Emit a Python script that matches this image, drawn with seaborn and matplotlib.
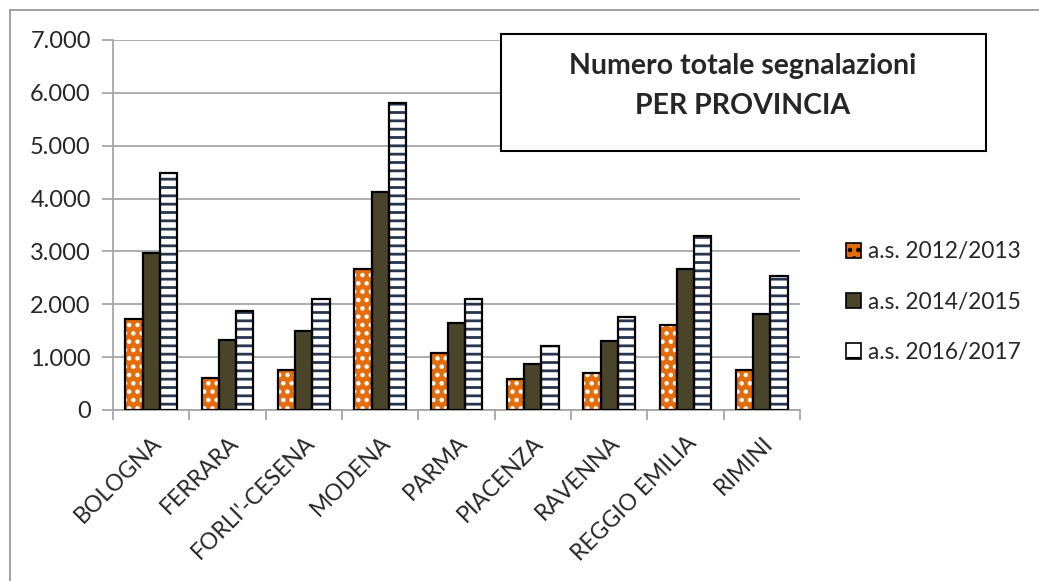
import numpy as np
import pandas as pd
import matplotlib
matplotlib.use("Agg")
import matplotlib.pyplot as plt
import seaborn as sns
from matplotlib.patches import Rectangle, Patch
from matplotlib.lines import Line2D
from matplotlib.ticker import FuncFormatter, FixedLocator

# data
province = ["BOLOGNA", "FERRARA", "FORLI'-CESENA", "MODENA", "PARMA",
            "PIACENZA", "RAVENNA", "REGGIO EMILIA", "RIMINI"]
anni = ["a.s. 2012/2013", "a.s. 2014/2015", "a.s. 2016/2017"]
as_2012_2013 = [1716, 612, 757, 2662, 1072, 593, 706, 1602, 757]
as_2014_2015 = [2964, 1324, 1494, 4118, 1652, 877, 1311, 2674, 1816]
as_2016_2017 = [4478, 1873, 2094, 5802, 2094, 1204, 1759, 3298, 2535]

df = pd.DataFrame({
    "provincia": province * 3,
    "anno": [anni[0]] * 9 + [anni[1]] * 9 + [anni[2]] * 9,
    "valore": as_2012_2013 + as_2014_2015 + as_2016_2017,
})

sns.set_style("white")
plt.rcParams['font.family'] = ['Lato', 'DejaVu Sans']
plt.rcParams['hatch.linewidth'] = 2.0

ORANGE = "#E46C0A"
OLIVE = "#4A452A"
NAVY = "#243650"
GRID = "#A6A6A6"

fig = plt.figure(figsize=(10.39, 5.81), dpi=100)
ax = fig.add_axes([113 / 1039, 1 - 410 / 581, 687 / 1039, 370 / 581])

sns.barplot(data=df, x="provincia", y="valore", hue="anno",
            palette=[ORANGE, OLIVE, "white"], width=0.68, gap=0,
            saturation=1, linewidth=0, legend=False, ax=ax, zorder=3)

# hatches: white dots on orange, dark horizontal stripes on white
styles = [("..", "white"), ("", OLIVE), ("--", NAVY)]
n = len(province)
for i, bar in enumerate(ax.patches[:3 * n]):
    hatch, hcol = styles[i // n]
    bar.set_hatch(hatch)
    bar.set_edgecolor(hcol)
    bar.set_linewidth(0)
    ax.add_patch(Rectangle(bar.get_xy(), bar.get_width(), bar.get_height(),
                           fill=False, edgecolor="black", linewidth=1.6,
                           zorder=4))

ax.set_ylim(0, 7000)
ax.set_xlim(-0.5, n - 0.5)
ax.yaxis.set_major_locator(FixedLocator(np.arange(0, 7001, 1000)))
ax.yaxis.set_major_formatter(FuncFormatter(lambda v, p: f"{int(v):,}".replace(",", ".")))
ax.grid(axis="y", color=GRID, linewidth=1.3, zorder=0)
ax.set_axisbelow(True)

for s in ["top", "right"]:
    ax.spines[s].set_visible(False)
for s in ["left", "bottom"]:
    ax.spines[s].set_color(GRID)
    ax.spines[s].set_linewidth(1.3)

ax.tick_params(axis="y", length=8, width=1.3, color=GRID, labelsize=17, pad=8,
               left=True)
ax.xaxis.set_minor_locator(FixedLocator(np.arange(-0.5, n, 1)))
ax.tick_params(axis="x", which="minor", length=7, width=1.3, color=GRID,
               bottom=True)
ax.tick_params(axis="x", which="major", length=0, pad=16, labelsize=16.5)
plt.setp(ax.get_xticklabels(), rotation=45, ha="right",
         rotation_mode="anchor")
ax.set_xlabel("")
ax.set_ylabel("")

# legend
handles = [
    Patch(facecolor=ORANGE, edgecolor="white", hatch="..", linewidth=0),
    Patch(facecolor=OLIVE, edgecolor=OLIVE, linewidth=0),
    Patch(facecolor="white", edgecolor=NAVY, hatch="-", linewidth=0),
]
leg = fig.legend(handles, anni, loc="center left",
                 bbox_to_anchor=(826 / 1039, 1 - 302 / 581), frameon=False,
                 fontsize=16.3, handlelength=0.65, handleheight=0.65,
                 handletextpad=0.3, labelspacing=1.3)
for h in leg.legend_handles:
    h.set_edgecolor("black")
    h.set_linewidth(1.2)

# title box
fig.patches.append(Rectangle((501 / 1039, 1 - 151 / 581), 485 / 1039,
                             117 / 581, transform=fig.transFigure,
                             facecolor="white", edgecolor="black",
                             linewidth=1.5, zorder=10))
fig.text(743 / 1039, 1 - 86 / 581,
         "Numero totale segnalazioni\nPER PROVINCIA",
         ha="center", va="center", fontsize=20.5, fontweight="bold",
         linespacing=1.7, zorder=11)

# outer chart border (only left and top visible)
fig.add_artist(Line2D([10 / 1039, 10 / 1039], [0, 1 - 10 / 581],
                      transform=fig.transFigure, color="#999999", lw=1.3))
fig.add_artist(Line2D([10 / 1039, 1], [1 - 10 / 581, 1 - 10 / 581],
                      transform=fig.transFigure, color="#999999", lw=1.3))

fig.savefig("out.png", dpi=100)
